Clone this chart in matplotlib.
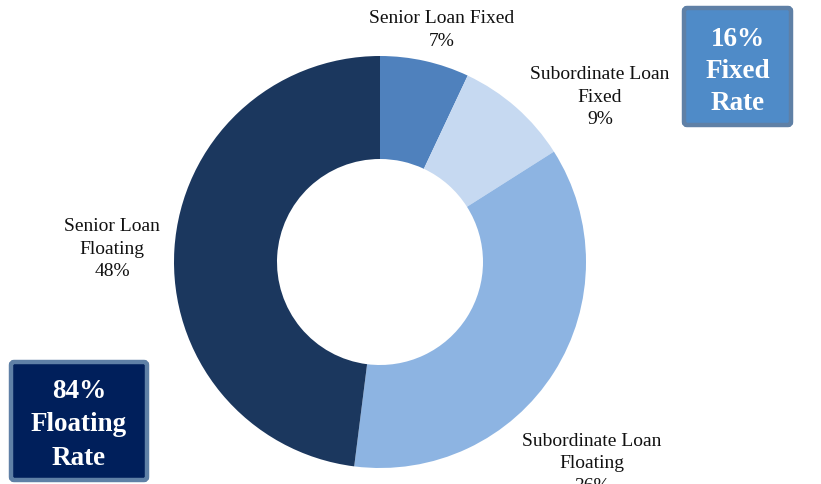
import matplotlib
matplotlib.use("Agg")
import matplotlib.pyplot as plt
from matplotlib.patches import FancyBboxPatch

# Portfolio composition by loan type and rate type
categories = ["Senior Loan Fixed", "Subordinate Loan\nFixed",
              "Subordinate Loan\nFloating", "Senior Loan\nFloating"]
shares = [7, 9, 36, 48]
colors = ["#4F81BD", "#C6D9F1", "#8DB4E2", "#1B375E"]

fixed_total = shares[0] + shares[1]
floating_total = shares[2] + shares[3]

plt.rcParams["font.family"] = ["Liberation Serif", "DejaVu Serif"]

W, H = 821, 485
fig = plt.figure(figsize=(W / 100, H / 100), dpi=100)
ax = fig.add_axes([0, 0, 1, 1])

cx, cy, r = 380, H - 263, 206
ax.pie(shares, colors=colors, startangle=90, counterclock=False,
       center=(cx, cy), radius=r,
       wedgeprops=dict(width=r * 0.5, edgecolor="none"))

ax.set_xlim(0, W)
ax.set_ylim(0, H)
ax.set_aspect("equal")
ax.axis("off")

# Slice labels (name and share), placed beside each slice
label_pos = [(442, 30), (600, 97), (592, 464), (112, 249)]
for cat, val, (x, y) in zip(categories, shares, label_pos):
    ax.text(x, H - y, f"{cat}\n{val}%", ha="center", va="center",
            fontsize=14, color="#111111", linespacing=1.42)

# Summary boxes
def summary_box(x0, y0, x1, y1, face, text, ls, dy):
    box = FancyBboxPatch((x0, H - y1), x1 - x0, y1 - y0,
                         boxstyle="round,pad=0,rounding_size=3",
                         facecolor=face, edgecolor="#5F80A6", linewidth=3.2)
    ax.add_patch(box)
    ax.text((x0 + x1) / 2, H - (y0 + y1) / 2 - dy, text, ha="center",
            va="center", fontsize=19.5, fontweight="bold", color="white",
            linespacing=ls)

summary_box(684, 9, 791, 126, "#4F8BC8", f"{fixed_total}%\nFixed\nRate", 1.38, 4)
summary_box(11, 363, 147, 481, "#001F5B", f"{floating_total}%\nFloating\nRate", 1.47, 3)

fig.savefig("out.png", dpi=100)
